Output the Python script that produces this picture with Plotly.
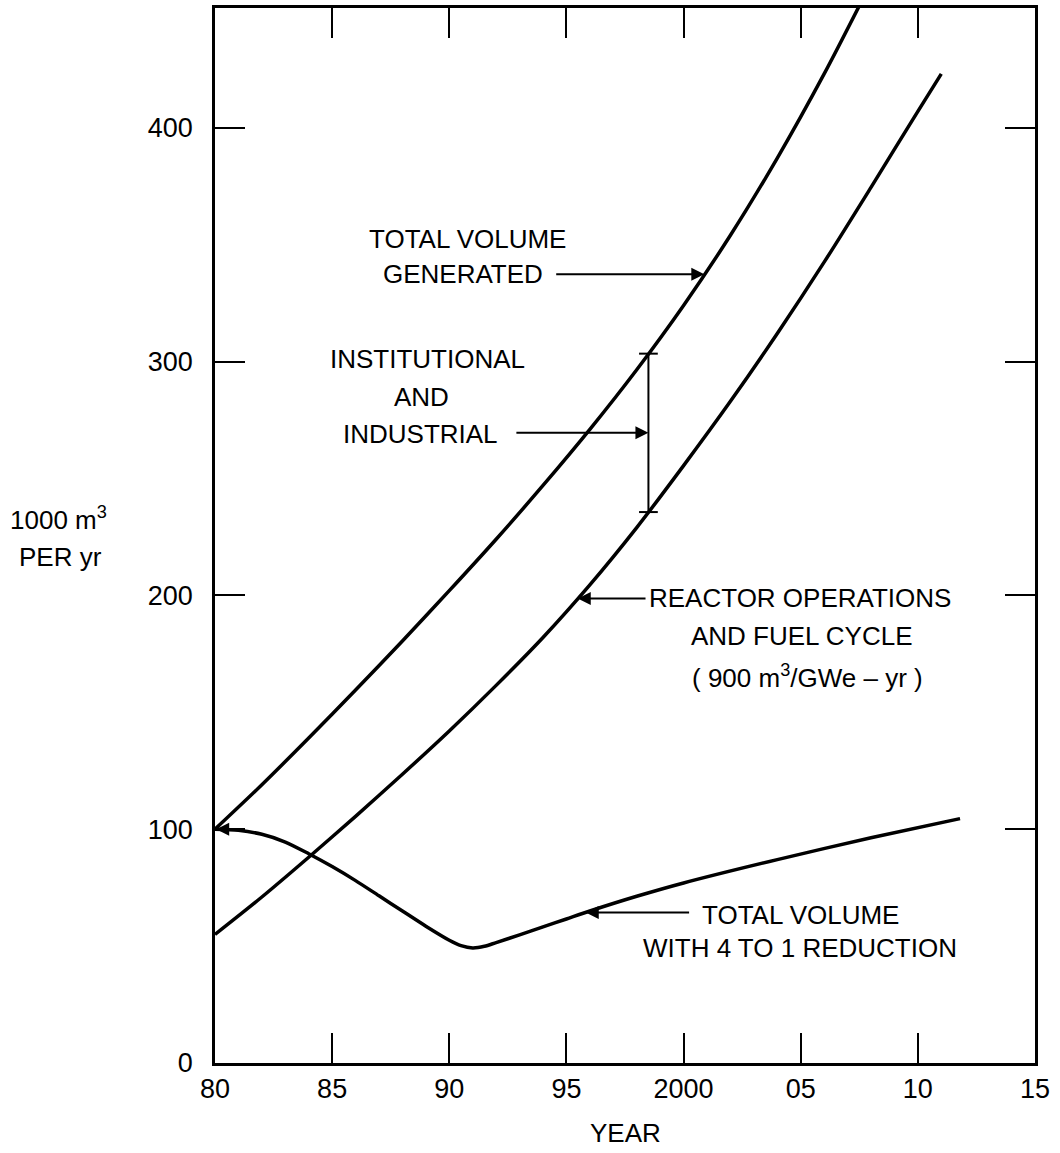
import numpy as np
import plotly.graph_objects as go

# Annual volumes (thousand m^3 per year)
years_total = [1980, 1982, 1984, 1986, 1988, 1990, 1992, 1994, 1996, 1998, 2000, 2002, 2004, 2006, 2008]
total_generated = [100, 119, 139, 159.5, 180.5, 202, 224, 247, 271, 296.5, 324, 354, 387, 423, 462]

years_reactor = [1980, 1982, 1984, 1986, 1988, 1990, 1992, 1994, 1996, 1998, 2000, 2002, 2004, 2006, 2008, 2010, 2011]
reactor_fuel_cycle = [55, 71, 88, 105.5, 123.5, 142, 161.5, 182, 204.5, 229, 255.5, 283, 312, 342.5, 374.5, 407, 423]

years_reduced = [1980, 1981, 1982, 1983, 1984, 1985, 1986, 1987, 1988, 1989, 1990, 1990.5, 1991,
                 1991.5, 1992, 1993, 1994, 1995, 1996, 1998, 2000, 2004, 2008, 2011.8]
total_reduced = [100, 99.5, 97.8, 94.5, 89.5, 84, 78, 71.5, 65, 58.5, 52.5, 50.2, 49.2,
                 49.9, 51.5, 54.8, 58.2, 61.6, 65, 71.3, 77, 87, 96.3, 104.5]

tick_years = [1980, 1985, 1990, 1995, 2000, 2005, 2010, 2015]
tick_text = ["80", "85", "90", "95", "2000", "05", "10", "15"]
y_ticks = [0, 100, 200, 300, 400]

FONT = "Liberation Sans, Arial, sans-serif"
INK = "black"

fig = go.Figure()

for xs, ys in [(years_total, total_generated), (years_reactor, reactor_fuel_cycle),
               (years_reduced, total_reduced)]:
    fig.add_trace(go.Scatter(x=xs, y=ys, mode="lines",
                             line=dict(color=INK, width=3.5, shape="spline", smoothing=0.8),
                             hoverinfo="skip", showlegend=False))

# Bracket marking the institutional/industrial share at 1998.5
bx = 1998.5
b_top = float(np.interp(bx, years_total, total_generated))
b_bot = float(np.interp(bx, years_reactor, reactor_fuel_cycle))
cap = 0.4
fig.add_trace(go.Scatter(
    x=[bx - cap, bx + cap, None, bx, bx, None, bx - cap, bx + cap],
    y=[b_top, b_top, None, b_top, b_bot, None, b_bot, b_bot],
    mode="lines", line=dict(color=INK, width=2), hoverinfo="skip", showlegend=False))

def label(x, y, text, xanchor="center"):
    fig.add_annotation(x=x, y=y, text=text, showarrow=False, xanchor=xanchor,
                       yanchor="middle", font=dict(family=FONT, size=26, color=INK))

def arrow(x_tail, y, x_head):
    fig.add_annotation(x=x_head, y=y, ax=x_tail, ay=y, axref="x", ayref="y",
                       text="", showarrow=True, arrowhead=2, arrowsize=1.3,
                       arrowwidth=2, arrowcolor=INK)

# Total volume generated
label(1990.76, 352.2, "TOTAL VOLUME")
label(1990.58, 337.3, "GENERATED")
arrow(1994.5, 337.3, float(np.interp(337.3, total_generated, years_total)))

# Institutional and industrial
label(1989.05, 301.1, "INSTITUTIONAL")
label(1988.83, 284.9, "AND")
label(1988.75, 269.1, "INDUSTRIAL")
arrow(1992.8, 269.5, bx)

# Reactor operations and fuel cycle
label(1998.44, 198.7, "REACTOR OPERATIONS", xanchor="left")
label(2005.05, 182.5, "AND FUEL CYCLE")
label(2005.27, 165.5, "( 900 m<sup>3</sup>/GWe – yr )")
arrow(1998.44, 198.7, float(np.interp(198.7, reactor_fuel_cycle, years_reactor)))

# Total volume with reduction
label(2005.0, 63.1, "TOTAL VOLUME")
label(2004.97, 49.0, "WITH 4 TO 1 REDUCTION")
post_min = [i for i, yv in enumerate(years_reduced) if yv >= 1991]
arrow(2000.3, 64.4, float(np.interp(64.4, [total_reduced[i] for i in post_min],
                                    [years_reduced[i] for i in post_min])))
arrow(1981.3, total_reduced[0], 1980.05)

# Axis titles
fig.add_annotation(x=0, xref="paper", xshift=-157, y=232.8, text="1000 m<sup>3</sup>",
                   showarrow=False, xanchor="center", yanchor="middle",
                   font=dict(family=FONT, size=26, color=INK))
fig.add_annotation(x=0, xref="paper", xshift=-155, y=216.6, text="PER yr",
                   showarrow=False, xanchor="center", yanchor="middle",
                   font=dict(family=FONT, size=26, color=INK))
fig.add_annotation(x=0.5, xref="paper", y=0, yref="paper", yshift=-70, text="YEAR",
                   showarrow=False, xanchor="center", yanchor="middle",
                   font=dict(family=FONT, size=26, color=INK))

axis_common = dict(showline=True, linecolor=INK, linewidth=2.5, mirror="ticks",
                   ticks="inside", ticklen=30, tickwidth=2, tickcolor=INK,
                   showgrid=False, zeroline=False,
                   tickfont=dict(family=FONT, size=27, color=INK))

fig.update_xaxes(range=[1980, 2015], tickvals=tick_years, ticktext=tick_text,
                 ticklabelstandoff=0, **axis_common)
fig.update_yaxes(range=[0, 451.2], tickvals=y_ticks, ticklabelstandoff=14, **axis_common)

fig.update_layout(width=1060, height=1153, margin=dict(l=215, r=25, t=5, b=90),
                  paper_bgcolor="white", plot_bgcolor="white", showlegend=False)

fig.write_html("out.html")
